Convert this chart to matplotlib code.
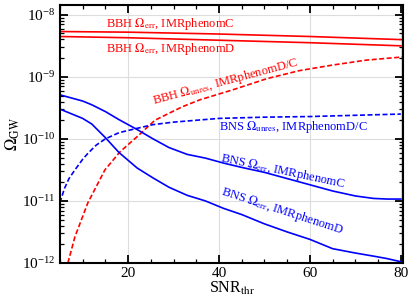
import numpy as np
import matplotlib
matplotlib.use('Agg')
import matplotlib.pyplot as plt
from matplotlib.ticker import FixedLocator, MultipleLocator, LogLocator

plt.rcParams['font.family'] = ['Liberation Serif', 'DejaVu Serif']
plt.rcParams['mathtext.fontset'] = 'stix'

# SNR threshold sample points and log10(Omega_GW)
snr_bbh = [5, 20, 40, 60, 80]
bbh_err_c = [-8.27, -8.28, -8.31, -8.35, -8.40]
bbh_err_d = [-8.35, -8.37, -8.41, -8.45, -8.50]

snr_bbh_unres = [6.76, 8.3, 11.15, 14.9, 18.2, 21.9, 25.9, 29.2, 32.0, 35.8, 43.0, 50.5, 57.7, 65.0, 72.5, 80.4]
bbh_unres = [-12.0, -11.58, -11.03, -10.5, -10.21, -9.97, -9.70, -9.58, -9.48, -9.37, -9.21, -9.03, -8.90, -8.81, -8.73, -8.68]

snr_bns_unres = [5, 6, 7, 8.3, 10, 11.2, 13, 15, 18, 22, 25.5, 30, 35, 40, 50, 60, 70, 80]
bns_unres = [-11.03, -10.8, -10.64, -10.5, -10.33, -10.23, -10.1, -10.0, -9.9, -9.83, -9.77, -9.73, -9.7, -9.67, -9.65, -9.64, -9.62, -9.6]

snr_bns = [5, 10, 12, 15, 18, 22, 25.5, 29, 33, 37, 41, 45, 50, 55, 60, 65, 70, 74, 77, 80]
bns_err_c = [-9.29, -9.39, -9.45, -9.56, -9.69, -9.85, -10.0, -10.14, -10.25, -10.31, -10.39, -10.46,
             -10.54, -10.64, -10.74, -10.84, -10.92, -10.96, -10.97, -10.97]
bns_err_d = [-9.52, -9.67, -9.76, -9.98, -10.22, -10.47, -10.63, -10.78, -10.91, -11.0, -11.12, -11.22,
             -11.37, -11.50, -11.62, -11.77, -11.84, -11.89, -11.93, -11.98]

x_ticks = [20, 40, 60, 80]

fig = plt.figure(figsize=(4.16, 3.04), dpi=100)
ax = fig.add_axes([0.144, 0.135, 0.825, 0.849])

ax.plot(snr_bbh, 10**np.array(bbh_err_c), color='red', lw=1.2)
ax.plot(snr_bbh, 10**np.array(bbh_err_d), color='red', lw=1.2)
ax.plot(snr_bbh_unres, 10**np.array(bbh_unres), color='red', lw=1.2, ls='--', dashes=(3, 1.5))
ax.plot(snr_bns_unres, 10**np.array(bns_unres), color='blue', lw=1.2, ls='--', dashes=(3, 1.5))
ax.plot(snr_bns, 10**np.array(bns_err_c), color='blue', lw=1.2)
ax.plot(snr_bns, 10**np.array(bns_err_d), color='blue', lw=1.2)

ax.set_yscale('log')
ax.set_xlim(5, 80.5)
ax.set_ylim(1e-12, 10**-7.84)
ax.xaxis.set_major_locator(FixedLocator(x_ticks))
ax.xaxis.set_minor_locator(MultipleLocator(5))
ax.yaxis.set_major_locator(LogLocator(base=10, numticks=10))
ax.yaxis.set_minor_locator(LogLocator(base=10, subs=np.arange(2, 10), numticks=20))
ax.tick_params(which='both', direction='in', top=True, right=True, labelsize=11)
ax.tick_params(which='major', length=6, width=1.3, pad=3)
ax.tick_params(which='minor', length=3, width=0.9)
for s in ax.spines.values():
    s.set_linewidth(1.5)
ax.grid(True, which='major', color='#dddddd', lw=0.8)
ax.set_axisbelow(True)

ax.set_xlabel(r'SNR$_{\rm thr}$', fontsize=11.5, labelpad=0)
ax.set_ylabel(r'$\Omega_{\rm GW}$', fontsize=12, labelpad=0)

fs = 9
ax.text(15.2, 10**-8.19, r'BBH $\Omega_{\rm err}$, IMRphenomC', color='red', fontsize=fs)
ax.text(15.2, 10**-8.6, r'BBH $\Omega_{\rm err}$, IMRphenomD', color='red', fontsize=fs)
ax.text(25.0, 10**-9.44, r'BBH $\Omega_{\rm unres}$, IMRphenomD/C', color='red', fontsize=fs, rotation=15)
ax.text(40, 10**-9.86, r'BNS $\Omega_{\rm unres}$, IMRphenomD/C', color='blue', fontsize=fs)
ax.text(40, 10**-10.78, r'BNS $\Omega_{\rm err}$, IMRphenomC', color='blue', fontsize=fs, rotation=-12)
ax.text(40, 10**-11.53, r'BNS $\Omega_{\rm err}$, IMRphenomD', color='blue', fontsize=fs, rotation=-18)

fig.savefig('out.png', dpi=100)
